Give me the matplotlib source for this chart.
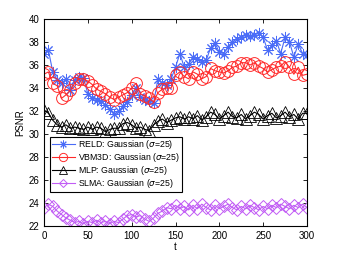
import matplotlib
matplotlib.use("Agg")
import matplotlib.pyplot as plt

plt.rcParams['font.family'] = ['Liberation Sans', 'DejaVu Sans']

t = list(range(0, 301, 5))

reld = [37.0, 37.3, 35.4, 34.7, 34.4, 34.8, 33.8, 34.7, 35.0, 34.9,
        33.5, 33.1, 33.0, 32.9, 32.5, 32.2, 31.7, 32.0, 32.4, 32.8,
        33.4, 34.0, 33.2, 33.0, 32.9, 32.7, 34.8, 34.4, 34.3, 34.8,
        35.8, 37.0, 35.8, 36.1, 36.7, 36.5, 36.3, 36.4, 37.5, 37.9,
        37.1, 37.0, 37.6, 38.0, 38.3, 38.4, 38.6, 38.5, 38.6, 38.8,
        38.4, 37.3, 37.7, 38.1, 37.0, 38.4, 38.0, 36.7, 37.8, 37.0, 36.9]

vbm3d = [35.2, 35.4, 34.4, 34.2, 33.1, 33.4, 33.8, 34.4, 34.8, 34.8,
         34.6, 34.3, 33.9, 33.7, 33.5, 33.2, 33.0, 33.2, 33.4, 33.6,
         34.0, 34.4, 33.5, 33.3, 33.1, 32.8, 33.6, 33.9, 34.0, 34.0,
         35.1, 35.4, 35.0, 34.8, 35.4, 35.2, 34.8, 35.0, 35.7, 35.5,
         35.4, 35.3, 35.5, 35.8, 35.9, 36.2, 36.2, 36.0, 36.2, 35.9,
         35.7, 35.4, 35.6, 35.8, 35.9, 36.3, 35.8, 35.2, 35.8, 35.1, 35.2]

mlp = [32.1, 31.8, 31.2, 30.8, 30.6, 30.8, 30.5, 30.6, 30.5, 30.4,
       30.6, 30.4, 30.6, 30.5, 30.2, 30.4, 30.5, 30.5, 30.9, 31.0,
       30.8, 30.5, 30.6, 30.4, 30.3, 30.8, 31.1, 31.3, 31.0, 31.2,
       31.4, 31.5, 31.3, 31.5, 31.3, 31.6, 31.2, 31.5, 31.9, 31.7,
       31.3, 31.6, 31.9, 31.5, 31.4, 31.7, 31.3, 31.6, 31.9, 31.7,
       31.3, 31.6, 31.8, 31.4, 31.6, 31.9, 31.5, 31.7, 31.3, 31.8, 31.8]

slma = [23.6, 23.9, 23.7, 23.3, 23.0, 22.7, 22.5, 22.3, 22.4, 22.2,
        22.4, 22.3, 22.5, 22.3, 22.4, 22.2, 22.4, 22.3, 22.6, 22.9,
        23.0, 22.8, 22.9, 22.6, 22.4, 22.7, 23.1, 23.3, 23.6, 23.5,
        23.8, 23.5, 23.7, 23.4, 23.8, 23.5, 23.9, 23.6, 23.4, 23.8,
        23.5, 23.7, 23.9, 23.6, 23.4, 23.7, 23.5, 23.8, 23.6, 23.4,
        23.7, 23.5, 23.8, 23.6, 23.9, 23.7, 23.5, 23.8, 23.6, 23.9, 23.6]

labels = ["RELD: Gaussian ($\\sigma$=25)", "VBM3D: Gaussian ($\\sigma$=25)",
          "MLP: Gaussian ($\\sigma$=25)", "SLMA: Gaussian ($\\sigma$=25)"]

fig = plt.figure(figsize=(3.38, 2.54), dpi=100)
ax = fig.add_axes([44 / 338, 28 / 254, 263 / 338, 207 / 254])

asterisk = (8, 2, 0)
ax.plot(t, reld, '-', marker=asterisk, color='#4a6cf7', lw=0.8, ms=8, mew=0.7, label=labels[0])
ax.plot(t, vbm3d, '-o', color='#ff2a2a', lw=0.8, ms=8.5, mew=0.7, mfc='none', label=labels[1])
ax.plot(t, mlp, '-^', color='black', lw=0.8, ms=8, mew=0.6, mfc='none', label=labels[2])
ax.plot(t, slma, '-D', color='#c15cf5', lw=0.8, ms=6, mew=0.7, mfc='none', label=labels[3])

ax.set_xlim(0, 300)
ax.set_ylim(22, 40)
ax.set_xticks(range(0, 301, 50))
ax.set_yticks(range(22, 41, 2))
ax.tick_params(direction='in', labelsize=7, length=3, width=0.6, top=True, right=True)
for s in ax.spines.values():
    s.set_linewidth(0.8)
ax.set_xlabel("t", fontsize=7, labelpad=1)
ax.set_ylabel("PSNR", fontsize=7, labelpad=2)

leg = ax.legend(loc='lower left', bbox_to_anchor=(0.023, 0.164), fontsize=6.3,
                fancybox=False, edgecolor='black', framealpha=1, markerscale=0.7,
                handlelength=2.6, borderpad=0.2, labelspacing=0.0,
                handletextpad=0.4, borderaxespad=0)
leg.get_frame().set_linewidth(0.8)

fig.savefig("out.png", dpi=100)
